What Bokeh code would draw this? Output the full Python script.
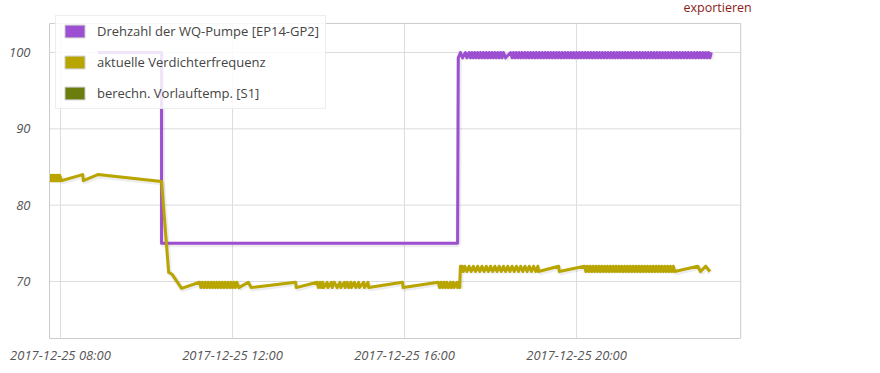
import pandas as pd
from bokeh.plotting import figure
from bokeh.models import (Range1d, FixedTicker, DatetimeTickFormatter, Legend, LegendItem, Label)
from bokeh.embed import file_html
from bokeh.resources import INLINE

# ---------------- data ----------------
day = "2017-12-25"
x_tick_labels = ["2017-12-25 08:00", "2017-12-25 12:00", "2017-12-25 16:00", "2017-12-25 20:00"]
y_ticks = [70, 80, 90, 100]
series_names = ["Drehzahl der WQ-Pumpe [EP14-GP2]", "aktuelle Verdichterfrequenz", "berechn. Vorlauftemp. [S1]"]
series_colors = ["#9c4fd0", "#b9a500", "#6b7d0c"]
export_text = "exportieren"

# Drehzahl der WQ-Pumpe (minutes since midnight, value)
pump_min = [532, 621, 621, 1034, 1035, 1038, 1041, 1045, 1047, 1050,
            1052, 1054, 1056, 1058, 1060, 1062, 1064, 1066, 1068, 1070, 1072, 1074,
            1076, 1078, 1080, 1082, 1084, 1086, 1088, 1090, 1092, 1094, 1096, 1098,
            1101, 1108,
            1110, 1112, 1114, 1116, 1118, 1120, 1122, 1124, 1126, 1128, 1130, 1132, 1134, 1136, 1138, 1140, 1142, 1144, 1146, 1148,
            1150, 1152, 1154, 1156, 1158, 1160, 1162, 1164, 1166, 1168, 1170, 1172, 1174, 1176, 1178, 1180, 1182, 1184, 1186, 1188,
            1190, 1192, 1194, 1196, 1198, 1200, 1202, 1204, 1206, 1208, 1210, 1212, 1214, 1216, 1218, 1220, 1222, 1224, 1226, 1228,
            1230, 1232, 1234, 1236, 1238, 1240, 1242, 1244, 1246, 1248, 1250, 1252, 1254, 1256, 1258, 1260, 1262, 1264, 1266, 1268,
            1270, 1272, 1274, 1276, 1278, 1280, 1282, 1284, 1286, 1288, 1290, 1292, 1294, 1296, 1298, 1300, 1302, 1304, 1306, 1308,
            1310, 1312, 1314, 1316, 1318, 1320, 1322, 1324, 1326, 1328, 1330, 1332, 1334, 1336, 1338, 1340, 1342, 1344, 1346, 1348,
            1350, 1352, 1354, 1356, 1358, 1360, 1362, 1364, 1366, 1368, 1370, 1372, 1374, 1376, 1378, 1380, 1382, 1384, 1386, 1388]
pump_val = [100, 100, 75, 75, 99.3, 100, 99.3, 100, 99.3, 100,
            99.3, 100, 99.3, 100, 99.3, 100, 99.3, 100, 99.3, 100, 99.3, 100,
            99.3, 100, 99.3, 100, 99.3, 100, 99.3, 100, 99.3, 100, 99.3, 100,
            99.3, 100,
            99.3, 100, 99.3, 100, 99.3, 100, 99.3, 100, 99.3, 100, 99.3, 100, 99.3, 100, 99.3, 100, 99.3, 100, 99.3, 100,
            99.3, 100, 99.3, 100, 99.3, 100, 99.3, 100, 99.3, 100, 99.3, 100, 99.3, 100, 99.3, 100, 99.3, 100, 99.3, 100,
            99.3, 100, 99.3, 100, 99.3, 100, 99.3, 100, 99.3, 100, 99.3, 100, 99.3, 100, 99.3, 100, 99.3, 100, 99.3, 100,
            99.3, 100, 99.3, 100, 99.3, 100, 99.3, 100, 99.3, 100, 99.3, 100, 99.3, 100, 99.3, 100, 99.3, 100, 99.3, 100,
            99.3, 100, 99.3, 100, 99.3, 100, 99.3, 100, 99.3, 100, 99.3, 100, 99.3, 100, 99.3, 100, 99.3, 100, 99.3, 100,
            99.3, 100, 99.3, 100, 99.3, 100, 99.3, 100, 99.3, 100, 99.3, 100, 99.3, 100, 99.3, 100, 99.3, 100, 99.3, 100,
            99.3, 100, 99.3, 100, 99.3, 100, 99.3, 100, 99.3, 100, 99.3, 100, 99.3, 100, 99.3, 100, 99.3, 100, 99.3, 100]

# aktuelle Verdichterfrequenz
comp_min = [465, 466, 467, 468, 469, 470, 471, 472, 473, 474, 475, 476, 477, 478, 479, 481,
            511, 512, 532, 621, 631, 636, 649, 674,
            676, 678, 680, 682, 684, 686, 688, 690, 692, 694, 696, 698, 700,
            702, 704, 706, 708, 710, 712, 714, 716, 718, 720, 722, 724, 726,
            729, 742, 746, 808, 809, 838,
            840, 842, 844, 846, 847,
            852, 853, 858, 859, 862, 866, 870, 871, 876, 877, 880, 882, 885, 886, 890, 892, 896, 897,
            903, 904, 909, 910,
            957, 958, 1007,
            1009, 1011, 1013, 1015, 1017, 1019, 1021, 1024, 1025, 1028, 1029, 1033, 1034, 1036, 1037,
            1038, 1039, 1040, 1042,
            1044, 1047, 1050, 1053, 1056, 1059, 1062, 1065, 1068, 1071, 1074, 1077, 1080, 1083, 1086,
            1089, 1092, 1095, 1098, 1101, 1104, 1107, 1110, 1113, 1116, 1119, 1122, 1125, 1128, 1131,
            1134, 1137, 1140, 1143, 1146, 1147,
            1175, 1176, 1211,
            1213, 1215, 1217, 1219, 1221, 1223, 1225, 1227, 1229, 1231, 1233, 1235, 1237, 1239, 1241, 1243, 1245, 1247, 1249, 1251,
            1253, 1255, 1257, 1259, 1261, 1263, 1265, 1267, 1269, 1271, 1273, 1275, 1277, 1279, 1281, 1283, 1285, 1287, 1289, 1291,
            1293, 1295, 1297, 1299, 1301, 1303, 1305, 1307, 1309, 1311, 1313, 1315, 1317, 1319, 1321, 1323, 1325, 1327, 1329, 1331,
            1333, 1335, 1337,
            1369, 1373, 1380, 1386]
comp_val = [83.9, 83.2, 83.9, 83.2, 83.9, 83.2, 83.9, 83.2, 83.9, 83.2, 83.9, 83.2, 83.9, 83.2, 83.9, 83.2,
            84.0, 83.2, 84.0, 83.1, 71.2, 70.9, 69.1, 69.9,
            69.2, 69.9, 69.2, 69.9, 69.2, 69.9, 69.2, 69.9, 69.2, 69.9, 69.2, 69.9, 69.2,
            69.9, 69.2, 69.9, 69.2, 69.9, 69.2, 69.9, 69.2, 69.9, 69.2, 69.9, 69.2, 69.9,
            69.2, 69.9, 69.2, 69.9, 69.2, 69.9,
            69.2, 69.9, 69.2, 69.9, 69.2,
            69.9, 69.2, 69.9, 69.2, 69.9, 69.2, 69.9, 69.2, 69.9, 69.2, 69.9, 69.2, 69.9, 69.2, 69.9, 69.2, 69.9, 69.2,
            69.9, 69.2, 69.9, 69.2,
            69.9, 69.2, 69.9,
            69.2, 69.9, 69.2, 69.9, 69.2, 69.9, 69.2, 69.9, 69.2, 69.9, 69.2, 69.9, 69.2, 69.9, 69.2,
            72.0, 71.3, 72.0, 71.3,
            72.0, 71.3, 72.0, 71.3, 72.0, 71.3, 72.0, 71.3, 72.0, 71.3, 72.0, 71.3, 72.0, 71.3, 72.0,
            71.3, 72.0, 71.3, 72.0, 71.3, 72.0, 71.3, 72.0, 71.3, 72.0, 71.3, 72.0, 71.3, 72.0, 71.3,
            72.0, 71.3, 72.0, 71.3, 72.0, 71.3,
            72.0, 71.3, 72.0,
            71.3, 72.0, 71.3, 72.0, 71.3, 72.0, 71.3, 72.0, 71.3, 72.0, 71.3, 72.0, 71.3, 72.0, 71.3, 72.0, 71.3, 72.0, 71.3, 72.0,
            71.3, 72.0, 71.3, 72.0, 71.3, 72.0, 71.3, 72.0, 71.3, 72.0, 71.3, 72.0, 71.3, 72.0, 71.3, 72.0, 71.3, 72.0, 71.3, 72.0,
            71.3, 72.0, 71.3, 72.0, 71.3, 72.0, 71.3, 72.0, 71.3, 72.0, 71.3, 72.0, 71.3, 72.0, 71.3, 72.0, 71.3, 72.0, 71.3, 72.0,
            71.3, 72.0, 71.3,
            72.0, 71.3, 72.0, 71.3]

assert len(pump_min) == len(pump_val)
assert len(comp_min) == len(comp_val)

# plot box (the visible frame) and the wider drawing area around it
box_left, box_right = "2017-12-25 07:44:42", "2017-12-25 23:49"
box_bottom, box_top = 62.53, 103.8
view_right = "2017-12-26 03:04"
view_top = 106.81

# ---------------- helpers ----------------
base = pd.Timestamp(day)
def to_time(mins):
    return base + pd.to_timedelta(mins, unit="m")

def ms(s):
    return pd.Timestamp(s).value / 1e6

xl, xr, xv = ms(box_left), ms(box_right), ms(view_right)
xticks = [ms(s) for s in x_tick_labels]

# ---------------- figure ----------------
p = figure(width=880, height=372, output_backend="svg", toolbar_location=None,
           x_axis_type="datetime",
           x_range=Range1d(xl, xv), y_range=Range1d(box_bottom, view_top),
           min_border_left=49, min_border_right=0, min_border_top=0, min_border_bottom=34)
p.outline_line_color = None
p.background_fill_color = "white"
p.border_fill_color = "white"
p.xgrid.visible = False
p.ygrid.visible = False

p.xaxis.ticker = FixedTicker(ticks=xticks)
fmt = "%Y-%m-%d %H:%M"
p.xaxis.formatter = DatetimeTickFormatter(milliseconds=fmt, seconds=fmt, minsec=fmt, minutes=fmt,
                                          hourmin=fmt, hours=fmt, days=fmt, months=fmt, years=fmt)
p.yaxis.ticker = FixedTicker(ticks=y_ticks)
p.xaxis.bounds = (xl, xr)
p.yaxis.bounds = (box_bottom, box_top)

for ax in (p.xaxis[0], p.yaxis[0]):
    ax.axis_line_color = "#cccccc"
    ax.major_tick_line_color = None
    ax.minor_tick_line_color = None
    ax.major_tick_out = 0
    ax.major_tick_in = 0
    ax.minor_tick_out = 0
    ax.major_label_text_font = "Open Sans"
    ax.major_label_text_font_style = "italic"
    ax.major_label_text_font_size = "13px"
    ax.major_label_text_color = "#555555"
p.xaxis.major_label_standoff = 7
p.yaxis.major_label_standoff = 19

# grid lines and box edges (top, right) limited to the plot box
p.segment(x0=xticks, x1=xticks, y0=[box_bottom] * len(xticks), y1=[box_top] * len(xticks),
          line_color="#dddddd", line_width=1)
p.segment(x0=[xl] * len(y_ticks), x1=[xr] * len(y_ticks), y0=y_ticks, y1=y_ticks,
          line_color="#dddddd", line_width=1)
p.segment(x0=[xl, xr], x1=[xr, xr], y0=[box_top, box_bottom], y1=[box_top, box_top],
          line_color="#cccccc", line_width=1)

pump_t = to_time(pump_min)
comp_t = to_time(comp_min)

# soft shadows
p.line(pump_t + pd.Timedelta(minutes=1), [v - 0.15 for v in pump_val], line_color="black", line_alpha=0.07, line_width=5.5)
p.line(comp_t + pd.Timedelta(minutes=1), [v - 0.15 for v in comp_val], line_color="black", line_alpha=0.07, line_width=5.5)

p.line(pump_t, pump_val, line_color=series_colors[0], line_width=3, line_join="round")
p.line(comp_t, comp_val, line_color=series_colors[1], line_width=3, line_join="round")

# legend swatches (glyphs without visible data)
nan = float("nan")
sw = [p.quad(left=[nan], right=[nan], top=[nan], bottom=[nan], fill_color=c, line_color="#cccccc", line_width=1)
      for c in series_colors]
legend = Legend(items=[LegendItem(label=n, renderers=[r]) for n, r in zip(series_names, sw)],
                location=(6, 229), orientation="vertical", padding=6, spacing=13, margin=0,
                glyph_width=25, glyph_height=16, label_height=13, label_standoff=10,
                border_line_color="#dddddd", background_fill_alpha=0.85,
                label_text_font="Open Sans", label_text_font_size="13px", label_text_color="#444444")
p.add_layout(legend, "center")

p.add_layout(Label(x=634, y=331, x_units="screen", y_units="screen", text=export_text,
                   text_baseline="middle", text_align="left", text_color="#8b1c1c",
                   text_font="Open Sans", text_font_size="12.5px"))

open("out.html", "w").write(file_html(p, INLINE))
